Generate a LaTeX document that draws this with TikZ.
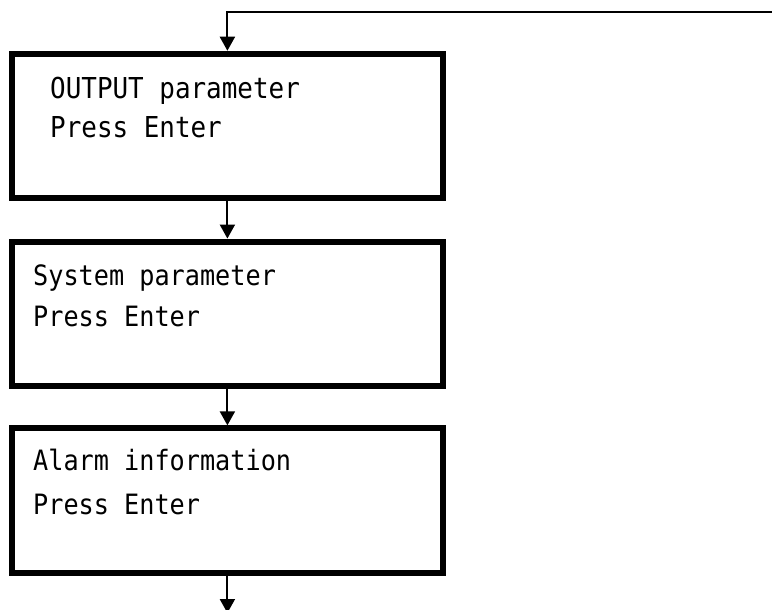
\documentclass[tikz,border=0pt]{standalone}
\usepackage{fontspec}
\setmonofont[FakeStretch=0.9]{DejaVu Sans Mono}
\usetikzlibrary{arrows.meta}
\tikzset{
  box/.style={draw=black, line width=6pt, minimum width=431pt, minimum height=144.5pt, inner sep=0pt},
  lbl/.style={anchor=base west, inner sep=0pt, font=\ttfamily\fontsize{28}{30}\selectfont},
  lblbig/.style={lbl, font=\ttfamily\fontsize{28.8}{30}\selectfont},
  conn/.style={line width=2pt, -{Triangle[width=15pt,length=14pt]}}
}
\begin{document}
\begin{tikzpicture}[x=1pt,y=-1pt]
\useasboundingbox[fill=white] (0,0) rectangle (772,610);
\node[box] (b1) at (227.4,126) {};
\node[box] (b2) at (227.4,313.8) {};
\node[box] (b3) at (227.4,500.6) {};
\node[lblbig] (t1a) at (50,98.3) {OUTPUT parameter};
\node[lblbig] (t1b) at (50,138) {Press Enter};
\node[lbl] (t2a) at (33,285) {System parameter};
\node[lbl] (t2b) at (33,326.7) {Press Enter};
\node[lbl] (t3a) at (33,470.7) {Alarm information};
\node[lbl] (t3b) at (33,514) {Press Enter};
\coordinate (top) at (775,11.7);
\coordinate (out) at (227.4,613);
\draw[conn] (top) -| (b1.north);
\draw[conn] (b1.south) -- (b2.north);
\draw[conn] (b2.south) -- (b3.north);
\draw[conn] (b3.south) -- (out);
\end{tikzpicture}
\end{document}
